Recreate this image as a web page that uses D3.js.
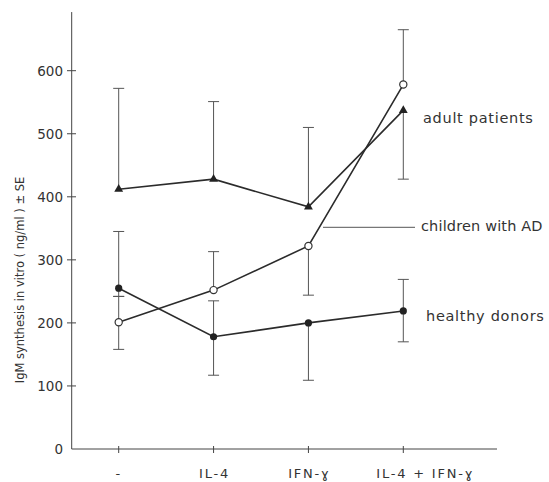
<!DOCTYPE html>
<html>
<head>
<meta charset="utf-8">
<script src="https://cdn.jsdelivr.net/npm/d3@7"></script>
<style>
  html, body { margin: 0; padding: 0; background: #fff; }
  svg { display: block; }
  text { font-family: "DejaVu Sans", sans-serif; fill: #333; }
</style>
</head>
<body>
<svg id="chart" width="549" height="482"></svg>
<script>
// ---- data ----
const categories = ["-", "IL-4", "IFN-\u0263", "IL-4 + IFN-\u0263"];
const yTicks = [0, 100, 200, 300, 400, 500, 600];

const adultMean  = [412, 428, 384, 537];
const adultUpper = [572, 551, 510, null];
const adultLower = [null, null, null, 428];

const childMean  = [201, 252, 322, 578];
const childUpper = [242, 313, null, 665];
const childLower = [158, null, 244, null];

const healthyMean  = [255, 178, 200, 219];
const healthyUpper = [345, 235, null, 269];
const healthyLower = [242, 117, 109, 170];

const seriesNames = ["adult patients", "children with AD", "healthy donors"];

// ---- layout ----
const svg = d3.select("#chart");
const x = d3.scalePoint().domain(categories).range([118.7, 403.3]);
const y = d3.scaleLinear().domain([0, 600]).range([449, 70.7]);
const axisColor = "#444";

// y axis line
svg.append("line")
  .attr("x1", 71.7).attr("x2", 71.7)
  .attr("y1", y(0)).attr("y2", y(693))
  .attr("stroke", axisColor).attr("stroke-width", 1);
// y ticks (cross the axis)
const yt = svg.append("g").selectAll("g").data(yTicks).join("g");
yt.filter(d => d > 0).append("line")
  .attr("x1", 67).attr("x2", 76)
  .attr("y1", d => y(d)).attr("y2", d => y(d))
  .attr("stroke", axisColor);
yt.append("text")
  .attr("x", 63).attr("y", d => y(d))
  .attr("dy", "0.36em").attr("text-anchor", "end")
  .attr("font-size", 13.5)
  .text(d => d);

// x axis line
svg.append("line")
  .attr("x1", 71.7).attr("x2", 497)
  .attr("y1", y(0)).attr("y2", y(0))
  .attr("stroke", axisColor).attr("stroke-width", 1);
const xt = svg.append("g").selectAll("g").data(categories).join("g");
xt.append("line")
  .attr("x1", d => x(d)).attr("x2", d => x(d))
  .attr("y1", y(0) - 3).attr("y2", y(0) + 4)
  .attr("stroke", axisColor);
xt.append("text")
  .attr("x", (d, i) => x(d) + (i === 3 ? 22 : (i === 0 ? 0 : 1)))
  .attr("y", 473).attr("dy", "0.36em")
  .attr("text-anchor", "middle")
  .attr("font-size", 13)
  .attr("letter-spacing", 1.8)
  .text(d => d);

// y axis title
svg.append("text")
  .attr("transform", "translate(20,280) rotate(-90)")
  .attr("text-anchor", "middle").attr("dy", "0.36em")
  .attr("font-size", 11.5)
  .text("IgM synthesis in vitro ( ng/ml ) \u00b1 SE");

// ---- error bars ----
function errorBars(mean, upper, lower) {
  const g = svg.append("g").attr("stroke", "#555").attr("stroke-width", 1);
  categories.forEach((c, i) => {
    const cx = x(c);
    [upper[i], lower[i]].forEach(v => {
      if (v == null) return;
      g.append("line").attr("x1", cx).attr("x2", cx)
        .attr("y1", y(mean[i])).attr("y2", y(v));
      g.append("line").attr("x1", cx - 5.5).attr("x2", cx + 5.5)
        .attr("y1", y(v)).attr("y2", y(v));
    });
  });
}
errorBars(adultMean, adultUpper, adultLower);
errorBars(childMean, childUpper, childLower);
errorBars(healthyMean, healthyUpper, healthyLower);

// ---- lines ----
const line = d3.line().x((d, i) => x(categories[i])).y(d => y(d));
[adultMean, childMean, healthyMean].forEach(s => {
  svg.append("path").datum(s)
    .attr("d", line)
    .attr("fill", "none").attr("stroke", "#2b2b2b").attr("stroke-width", 1.6);
});

// ---- markers ----
const tri = d3.symbol().type(d3.symbolTriangle).size(34);
svg.append("g").selectAll("path").data(adultMean).join("path")
  .attr("d", tri)
  .attr("transform", (d, i) => `translate(${x(categories[i])},${y(d)})`)
  .attr("fill", "#222");
svg.append("g").selectAll("circle").data(childMean).join("circle")
  .attr("cx", (d, i) => x(categories[i])).attr("cy", d => y(d))
  .attr("r", 3.6).attr("fill", "#fff").attr("stroke", "#333").attr("stroke-width", 1.2);
svg.append("g").selectAll("circle").data(healthyMean).join("circle")
  .attr("cx", (d, i) => x(categories[i])).attr("cy", d => y(d))
  .attr("r", 3.6).attr("fill", "#222");

// ---- series labels ----
svg.append("text").attr("x", 423).attr("y", 118).attr("dy", "0.36em")
  .attr("font-size", 14.5).attr("letter-spacing", 0.7).text(seriesNames[0]);
svg.append("line")
  .attr("x1", 323).attr("x2", 415).attr("y1", 227.3).attr("y2", 227.3)
  .attr("stroke", "#555").attr("stroke-width", 1);
svg.append("text").attr("x", 421).attr("y", 226).attr("dy", "0.36em")
  .attr("font-size", 14.5).attr("letter-spacing", 0.15).text(seriesNames[1]);
svg.append("text").attr("x", 426).attr("y", 316).attr("dy", "0.36em")
  .attr("font-size", 14.5).attr("letter-spacing", 0.7).text(seriesNames[2]);
</script>
</body>
</html>
